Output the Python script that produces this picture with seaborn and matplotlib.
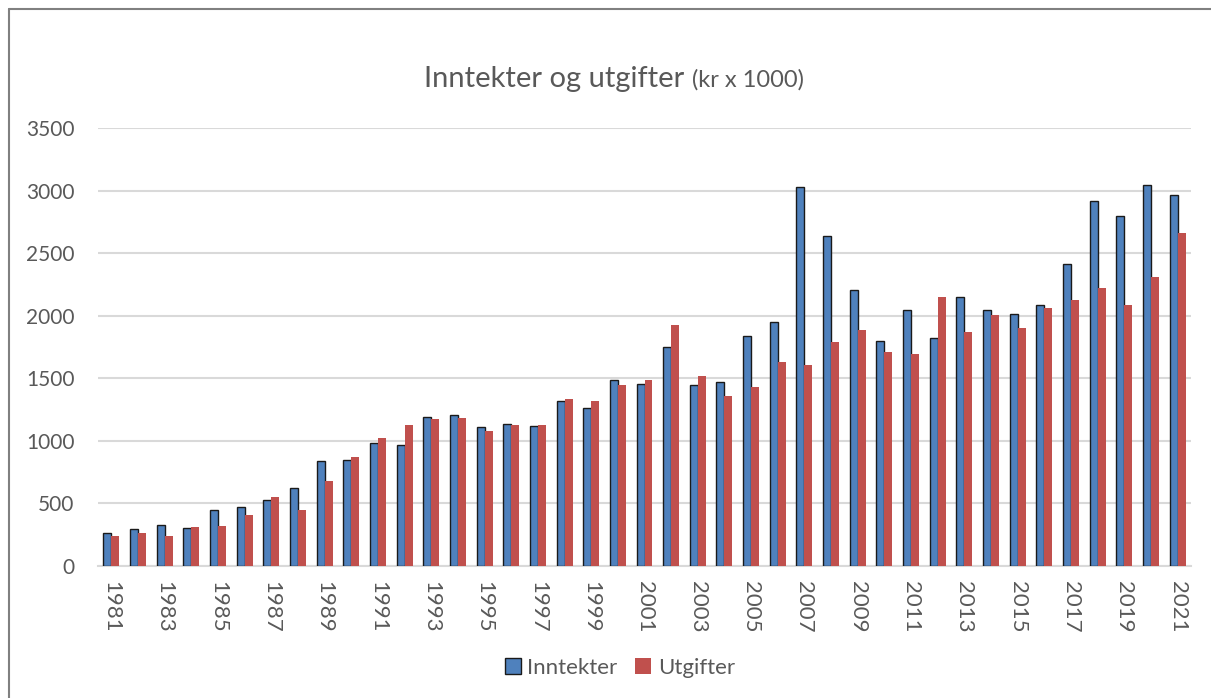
import matplotlib
matplotlib.use("Agg")
import matplotlib.pyplot as plt
import seaborn as sns
import pandas as pd
from matplotlib.patches import Patch
from matplotlib.lines import Line2D

years = list(range(1981, 2022))
inntekter = [262, 296, 325, 301, 445, 472, 525, 621, 837, 850, 984,
             965, 1187, 1203, 1110, 1134, 1120, 1318, 1262, 1485, 1456,
             1753, 1445, 1474, 1838, 1950, 3032, 2636, 2204, 1797, 2045,
             1820, 2147, 2043, 2011, 2085, 2416, 2917, 2797, 3042, 2965]
utgifter = [240, 264, 237, 312, 322, 410, 552, 445, 677, 872, 1026,
            1128, 1173, 1181, 1078, 1123, 1123, 1334, 1318, 1450, 1485,
            1928, 1522, 1360, 1427, 1634, 1605, 1790, 1885, 1709, 1696,
            2153, 1870, 2008, 1902, 2061, 2128, 2218, 2085, 2312, 2658]
series_names = ["Inntekter", "Utgifter"]
title_main = "Inntekter og utgifter"
title_sub = "(kr x 1000)"
yticks = [0, 500, 1000, 1500, 2000, 2500, 3000, 3500]

df = pd.DataFrame({
    "year": [str(y) for y in years] * 2,
    "value": inntekter + utgifter,
    "series": [series_names[0]] * len(years) + [series_names[1]] * len(years),
})

sns.set_style("white")
plt.rcParams["font.family"] = ["Lato", "DejaVu Sans"]

W, H = 1211, 698
fig = plt.figure(figsize=(W / 100, H / 100), dpi=100)
ax = fig.add_axes([98 / W, 1 - 566 / H, (1191 - 98) / W, (566 - 128) / H])

blue = "#4F81BD"
red = "#C0504D"
text_col = "#595959"

sns.barplot(data=df, x="year", y="value", hue="series",
            palette=[blue, red], width=0.6, gap=0, ax=ax,
            legend=False, saturation=1, zorder=3)

for p in ax.containers[0]:
    p.set_edgecolor("#1a1a1a")
    p.set_linewidth(1.0)
for p in ax.containers[1]:
    p.set_edgecolor("none")

ax.set_ylim(0, 3500)
ax.set_yticks(yticks)
ax.set_yticklabels([str(t) for t in yticks], fontsize=15, color=text_col)
ax.yaxis.grid(True, color="#d9d9d9", linewidth=1.5, zorder=0)
ax.set_axisbelow(True)
ax.set_xlim(-0.5, len(years) - 0.5)
ax.set_xticks(range(0, len(years), 2))
ax.set_xticklabels([str(y) for y in years[::2]], rotation=-90,
                   fontsize=16, color=text_col, va="top")
ax.tick_params(axis="x", length=0, pad=11)
ax.tick_params(axis="y", length=0, pad=17)
ax.set_xlabel("")
ax.set_ylabel("")
for s in ["top", "right", "left"]:
    ax.spines[s].set_visible(False)
ax.spines["bottom"].set_color("#d9d9d9")
ax.spines["bottom"].set_linewidth(1.5)

fig.text(684 / W, 1 - 87 / H, title_main, fontsize=21, color=text_col,
         ha="right", va="baseline")
fig.text(692 / W, 1 - 87 / H, title_sub, fontsize=17, color=text_col,
         ha="left", va="baseline")

handles = [Patch(facecolor=blue, edgecolor="#1a1a1a", linewidth=1.0),
           Patch(facecolor=red, edgecolor="none")]
fig.legend(handles, series_names, loc="center",
           bbox_to_anchor=(620 / W, 1 - 668 / H), ncol=2, frameon=False,
           fontsize=16, labelcolor=text_col, handlelength=0.7,
           handleheight=0.7, handletextpad=0.3, columnspacing=0.8)

fig.add_artist(Line2D([8.5 / W, 8.5 / W], [0, 1 - 8.5 / H],
                      transform=fig.transFigure, color="#808080", lw=1.5))
fig.add_artist(Line2D([8.5 / W, 1], [1 - 8.5 / H, 1 - 8.5 / H],
                      transform=fig.transFigure, color="#808080", lw=1.5))

fig.savefig("out.png", dpi=100)
